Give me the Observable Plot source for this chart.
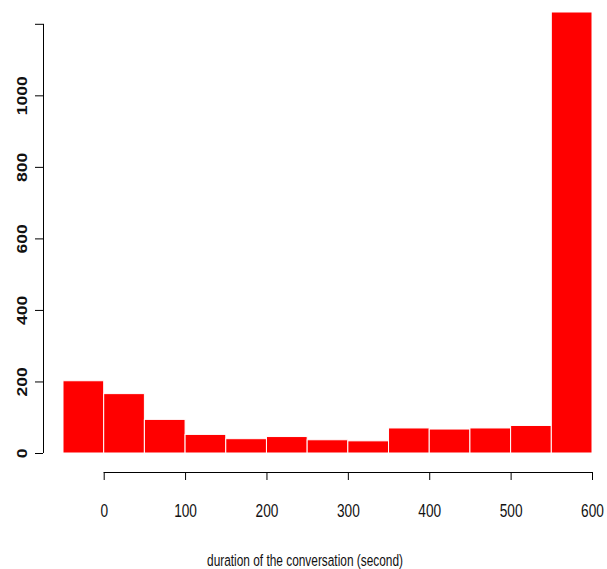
<!DOCTYPE html>
<html><head><meta charset="utf-8">
<script src="https://cdn.jsdelivr.net/npm/d3@7"></script>
<script src="https://cdn.jsdelivr.net/npm/@observablehq/plot@0.6"></script>
<style>body{margin:0;background:#fff;} svg{display:block;}</style>
</head><body><div id="chart"></div>
<script>
const binStarts = [-50, 0, 50, 100, 150, 200, 250, 300, 350, 400, 450, 500, 550];
const binWidth = 50;
const counts = [202, 166, 94, 52, 40, 46, 37, 34, 70, 67, 70, 77, 1233];
const xTicks = [0, 100, 200, 300, 400, 500, 600];
const yTicks = [0, 200, 400, 600, 800, 1000, 1200];
const xLabel = "duration of the conversation (second)";

const bins = binStarts.map((s, i) => ({x1: s, x2: s + binWidth, count: counts[i]}));

const chart = Plot.plot({
  width: 607,
  height: 569,
  marginLeft: 63,
  marginRight: 15,
  marginTop: 12,
  marginBottom: 116,
  style: {fontFamily: "Liberation Sans, Arial, sans-serif", background: "#fff"},
  x: {domain: [-50, 600]},
  y: {domain: [0, 1233]},
  marks: [
    Plot.rectY(bins, {x1: "x1", x2: "x2", y: "count", fill: "#ff0000", stroke: "#fff", strokeWidth: 1}),
    // y axis
    Plot.ruleX([-50], {y1: 0, y2: 1200, dx: -20, stroke: "#000"}),
    Plot.axisY({ticks: yTicks, dx: -20, tickSize: 8, tickPadding: 9, tickRotate: -90, label: null,
      tickFormat: d => d === 1200 ? "" : String(d), fontSize: 17.5, fontWeight: "bold", stroke: "#000", fill: "#111"}),
    // x axis
    Plot.ruleY([0], {x1: 0, x2: 600, dy: 19, stroke: "#000"}),
    Plot.axisX({ticks: xTicks, dy: 19, tickSize: 8, tickPadding: 24, label: null,
      fontSize: 18, fill: "#111"}),
    Plot.text([xLabel], {frameAnchor: "bottom", dx: -23, dy: 112, fontSize: 16.5, text: d => d, fill: "#111"})
  ]
});
// condensed look of the reference text (horizontally squeezed rendering)
chart.querySelectorAll("text").forEach(t => {
  const g = t.closest("g[aria-label]");
  const label = g ? g.getAttribute("aria-label") : "";
  const tr = t.getAttribute("transform") || "";
  const m = tr.match(/translate\(([^,\s)]+)[,\s]+([^)]+)\)/);
  const base = m ? `translate(${m[1]},${m[2]})` : "";
  if (label === "y-axis tick label") {
    t.setAttribute("transform", `${base} scale(0.8,1) rotate(-90)`);
  } else if (label === "x-axis tick label") {
    t.setAttribute("transform", `${base} scale(0.76,1)`);
  } else if (label === "text") {
    t.setAttribute("transform", `${base} scale(0.72,1)`);
  }
});
document.getElementById("chart").append(chart);
</script></body></html>
